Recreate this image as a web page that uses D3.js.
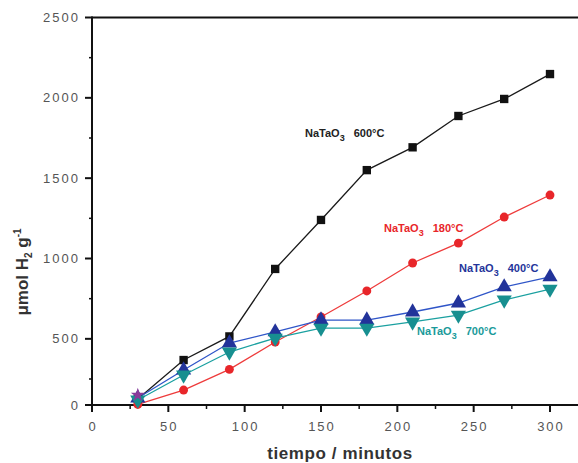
<!DOCTYPE html>
<html><head><meta charset="utf-8">
<script src="https://cdn.jsdelivr.net/npm/d3@7"></script>
<style>
html,body{margin:0;padding:0;background:#fff;}
svg{display:block;font-family:"Liberation Sans",Arial,sans-serif;}
</style></head>
<body><svg id="c" width="578" height="463"></svg>
<script>
const times = [30, 60, 90, 120, 150, 180, 210, 240, 270, 300];
const s600 = [58, 368, 515, 935, 1240, 1550, 1692, 1887, 1993, 2148];
const s180 = [5, 144, 310, 480, 636, 798, 972, 1096, 1258, 1395];
const s400 = [67, 306, 474, 543, 617, 617, 667, 723, 823, 885];
const s700 = [48, 275, 418, 505, 567, 567, 605, 648, 742, 810];
const starPoint = [{t: 30, v: 96}];
const xTicks = [0, 50, 100, 150, 200, 250, 300];
const xMinor = [25, 75, 125, 175, 225, 275];
const yTicks = [0, 500, 1000, 1500, 2000, 2500];
const yMinor = [250, 750, 1250, 1750, 2250];
const labelTexts = ["600°C", "180°C", "400°C", "700°C"];

const svg = d3.select("#c");
const x = d3.scaleLinear().domain([0, 300]).range([92, 550]);
const y = d3.scaleLinear().domain([0, 250, 2500]).range([405, 379, 17.5]);

const series = [
  {name: "600", vals: s600, line: "#1a1a1a", fill: "#111", shape: "square"},
  {name: "180", vals: s180, line: "#ee3b3b", fill: "#e8262a", shape: "circle"},
  {name: "400", vals: s400, line: "#2f55c8", fill: "#22339a", shape: "up"},
  {name: "700", vals: s700, line: "#1aa0a0", fill: "#178f90", shape: "down"}
];

// frame
const g = svg.append("g");
g.append("line").attr("x1", x(0)).attr("x2", 600).attr("y1", y(0)).attr("y2", y(0)).attr("stroke", "#111").attr("stroke-width", 2);
g.append("line").attr("x1", x(0)).attr("x2", 600).attr("y1", y(2500)).attr("y2", y(2500)).attr("stroke", "#111").attr("stroke-width", 2);
g.append("line").attr("x1", x(0)).attr("x2", x(0)).attr("y1", y(0)+1).attr("y2", y(2500)-1).attr("stroke", "#111").attr("stroke-width", 2);

// x ticks
g.selectAll(".xt").data(xTicks).enter().append("line")
  .attr("x1", d => x(d)).attr("x2", d => x(d)).attr("y1", y(0)).attr("y2", y(0)+7)
  .attr("stroke", "#111").attr("stroke-width", 2);
g.selectAll(".xm").data(xMinor).enter().append("line")
  .attr("x1", d => x(d)).attr("x2", d => x(d)).attr("y1", y(0)).attr("y2", y(0)+4)
  .attr("stroke", "#111").attr("stroke-width", 1.5);
g.selectAll(".xl").data(xTicks).enter().append("text")
  .attr("x", d => x(d) + 1).attr("y", 431)
  .attr("text-anchor", "middle").attr("font-size", 13).attr("letter-spacing", 2)
  .attr("fill", "#555").text(d => d);

// y ticks
g.selectAll(".yt").data(yTicks).enter().append("line")
  .attr("x1", x(0)-7).attr("x2", x(0)).attr("y1", d => y(d)).attr("y2", d => y(d))
  .attr("stroke", "#111").attr("stroke-width", 2);
g.selectAll(".ym").data(yMinor).enter().append("line")
  .attr("x1", x(0)-3).attr("x2", x(0)).attr("y1", d => y(d)).attr("y2", d => y(d))
  .attr("stroke", "#111").attr("stroke-width", 1.5);
g.selectAll(".yl").data(yTicks).enter().append("text")
  .attr("x", 80).attr("y", d => y(d) + 4.5)
  .attr("text-anchor", "end").attr("font-size", 13).attr("letter-spacing", 2)
  .attr("fill", "#555").text(d => d);

// axis titles
svg.append("text").attr("x", 340).attr("y", 459).attr("text-anchor", "middle")
  .attr("font-size", 17).attr("font-weight", "bold").attr("letter-spacing", 0.6)
  .attr("fill", "#333").text("tiempo / minutos");

const yt = svg.append("text").attr("transform", "translate(28,272) rotate(-90)")
  .attr("text-anchor", "middle").attr("font-size", 17).attr("font-weight", "bold").attr("fill", "#333");
yt.append("tspan").text("μmol H");
yt.append("tspan").attr("font-size", 10).attr("dy", 4).text("2");
yt.append("tspan").attr("dy", -4).text(" g");
yt.append("tspan").attr("font-size", 10).attr("dy", -7).text("-1");

// lines and markers
const line = d3.line().x((d, i) => x(times[i])).y(d => y(d));
series.forEach(s => {
  svg.append("path").datum(s.vals).attr("d", line)
    .attr("fill", "none").attr("stroke", s.line).attr("stroke-width", 1.3);
});

function symbolFor(shape) {
  if (shape === "square") return d3.symbol().type(d3.symbolSquare).size(70)();
  if (shape === "circle") return d3.symbol().type(d3.symbolCircle).size(62)();
  return d3.symbol().type(d3.symbolTriangle).size(100)();
}
series.forEach(s => {
  svg.selectAll(".m" + s.name).data(s.vals).enter().append("path")
    .attr("d", symbolFor(s.shape))
    .attr("transform", (d, i) => `translate(${x(times[i])},${y(d)})` + (s.shape === "down" ? " rotate(180)" : ""))
    .attr("fill", s.fill);
});

// star marker at first point
svg.selectAll(".star").data(starPoint).enter().append("path")
  .attr("d", d3.symbol().type(d3.symbolStar).size(60)())
  .attr("transform", d => `translate(${x(d.t)},${y(d.v)})`)
  .attr("fill", "#8a3a9a");

// series labels
const labels = [
  {x: 305, y: 137, color: "#222", i: 0},
  {x: 384, y: 232, color: "#e8262a", i: 1},
  {x: 459, y: 272, color: "#24349a", i: 2},
  {x: 417, y: 335, color: "#1a9a9a", i: 3}
];
labels.forEach(l => {
  const t = svg.append("text").attr("x", l.x).attr("y", l.y)
    .attr("font-size", 11).attr("font-weight", "bold").attr("fill", l.color);
  t.append("tspan").text("NaTaO");
  t.append("tspan").attr("font-size", 9).attr("dy", 4).text("3");
  t.append("tspan").attr("dy", -4).attr("dx", 9).text(labelTexts[l.i]);
});
</script></body></html>
